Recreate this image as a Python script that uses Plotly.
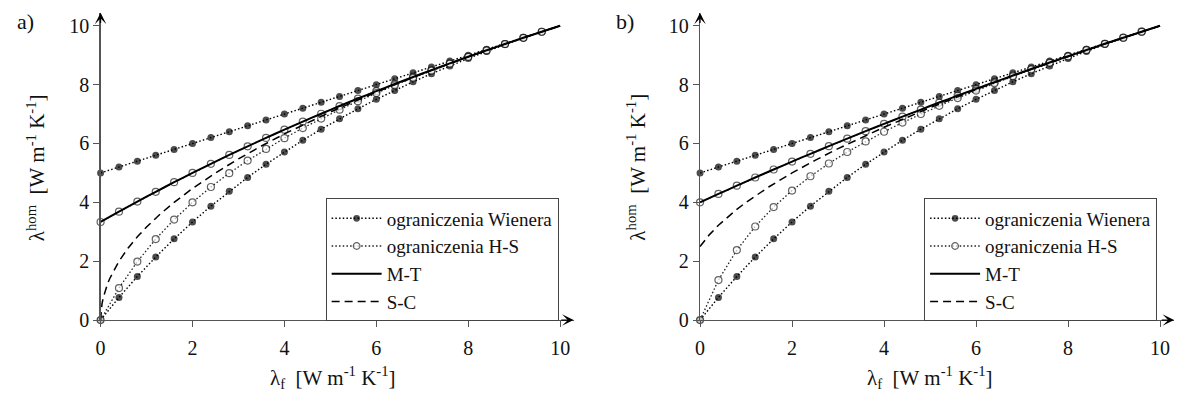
import plotly.graph_objects as go

# ---------------- data ----------------
LAM_F = [0.0, 0.4, 0.8, 1.2, 1.6, 2.0, 2.4, 2.8, 3.2, 3.6, 4.0, 4.4, 4.8,
         5.2, 5.6, 6.0, 6.4, 6.8, 7.2, 7.6, 8.0, 8.4, 8.8, 9.2, 9.6, 10.0]

WIENER_UP = [5.0, 5.2, 5.4, 5.6, 5.8, 6.0, 6.2, 6.4, 6.6, 6.8, 7.0, 7.2, 7.4,
             7.6, 7.8, 8.0, 8.2, 8.4, 8.6, 8.8, 9.0, 9.2, 9.4, 9.6, 9.8, 10.0]
WIENER_LO = [0.0, 0.769, 1.481, 2.143, 2.759, 3.333, 3.871, 4.375, 4.848, 5.294,
             5.714, 6.111, 6.486, 6.842, 7.179, 7.5, 7.805, 8.095, 8.372, 8.636,
             8.889, 9.130, 9.362, 9.583, 9.796, 10.0]

# panel a)
A_HS_UP = [3.333, 3.684, 4.026, 4.359, 4.684, 5.0, 5.309, 5.610, 5.904, 6.190,
           6.471, 6.744, 7.011, 7.273, 7.528, 7.778, 8.022, 8.261, 8.495, 8.723,
           8.947, 9.167, 9.381, 9.592, 9.798, 10.0]
A_HS_LO = [0.0, 1.086, 1.987, 2.753, 3.416, 4.0, 4.521, 4.991, 5.420, 5.815,
           6.182, 6.524, 6.846, 7.150, 7.439, 7.714, 7.978, 8.232, 8.476, 8.712,
           8.941, 9.164, 9.380, 9.591, 9.798, 10.0]
A_MT = [3.333, 3.684, 4.026, 4.359, 4.684, 5.0, 5.309, 5.610, 5.904, 6.190,
        6.471, 6.744, 7.011, 7.273, 7.528, 7.778, 8.022, 8.261, 8.495, 8.723,
        8.947, 9.167, 9.381, 9.592, 9.798, 10.0]
A_SC_X = [0.0, 0.01, 0.03, 0.06, 0.1, 0.15, 0.2, 0.3, 0.4, 0.6, 0.8, 1.0, 1.3,
          1.6, 2.0, 2.5, 3.0, 3.5, 4.0, 5.0, 6.0, 7.0, 8.0, 9.0, 10.0]
A_SC = [0.0, 0.316, 0.548, 0.775, 1.0, 1.225, 1.414, 1.732, 2.0, 2.449, 2.828,
        3.162, 3.606, 4.0, 4.472, 5.0, 5.477, 5.916, 6.325, 7.071, 7.746, 8.367,
        8.944, 9.487, 10.0]

# panel b)
B_HS_UP = [4.0, 4.286, 4.567, 4.844, 5.116, 5.385, 5.649, 5.909, 6.165, 6.418,
           6.667, 6.912, 7.153, 7.391, 7.626, 7.857, 8.085, 8.310, 8.531, 8.75,
           8.966, 9.178, 9.388, 9.595, 9.799, 10.0]
B_HS_LO = [0.0, 1.36, 2.377, 3.18, 3.84, 4.4, 4.887, 5.32, 5.711, 6.069, 6.4,
           6.71, 7.002, 7.28, 7.545, 7.8, 8.046, 8.284, 8.515, 8.74, 8.96, 9.175,
           9.387, 9.594, 9.799, 10.0]
B_MT = [4.0, 4.286, 4.567, 4.844, 5.116, 5.385, 5.649, 5.909, 6.165, 6.418,
        6.667, 6.912, 7.153, 7.391, 7.626, 7.857, 8.085, 8.310, 8.531, 8.75,
        8.966, 9.178, 9.388, 9.595, 9.799, 10.0]
B_SC_X = [0.0, 0.1, 0.2, 0.4, 0.6, 0.8, 1.0, 1.5, 2.0, 2.5, 3.0, 4.0, 5.0, 6.0,
          7.0, 8.0, 9.0, 10.0]
B_SC = [2.5, 2.710, 2.895, 3.221, 3.506, 3.763, 4.0, 4.530, 5.0, 5.428, 5.825,
        6.552, 7.215, 7.831, 8.411, 8.963, 9.491, 10.0]

TICKS = [0, 2, 4, 6, 8, 10]
LEGEND_NAMES = ["ograniczenia Wienera", "ograniczenia H-S", "M-T", "S-C"]
PANEL_LABELS = ["a)", "b)"]

# ---------------- styling ----------------
FONT = "Liberation Serif"
W, H = 1179, 405
n = len(LAM_F)
msizes = [7] * (n - 1) + [0]

fig = go.Figure()


def add_panel(xa, ya, leg, hs_up, hs_lo, mt, sc_x, sc):
    common = dict(xaxis=xa, yaxis=ya, legend=leg, cliponaxis=False)
    # Wiener bounds
    for i, yv in enumerate([WIENER_UP, WIENER_LO]):
        fig.add_trace(go.Scatter(
            x=LAM_F, y=yv, mode="lines+markers", name=LEGEND_NAMES[0],
            legendgroup=leg + "w", showlegend=(i == 0),
            line=dict(color="#000", width=1.4, dash="1.5px,2.2px"),
            marker=dict(symbol="circle", size=msizes, color="#000",
                        line=dict(width=0)),
            **common))
    # H-S bounds
    for i, yv in enumerate([hs_up, hs_lo]):
        fig.add_trace(go.Scatter(
            x=LAM_F, y=yv, mode="lines+markers", name=LEGEND_NAMES[1],
            legendgroup=leg + "h", showlegend=(i == 0),
            line=dict(color="#222", width=1.3, dash="1.5px,2.2px"),
            marker=dict(symbol="circle", size=msizes, color="white",
                        line=dict(width=1.2, color="#222")),
            **common))
    # M-T
    fig.add_trace(go.Scatter(
        x=LAM_F, y=mt, mode="lines", name=LEGEND_NAMES[2],
        line=dict(color="#000", width=2, shape="spline", smoothing=0.6),
        **common))
    # S-C
    fig.add_trace(go.Scatter(
        x=sc_x, y=sc, mode="lines", name=LEGEND_NAMES[3],
        line=dict(color="#000", width=1.5, dash="8px,5px"),
        **common))


add_panel("x", "y", "legend", A_HS_UP, A_HS_LO, A_MT, A_SC_X, A_SC)
add_panel("x2", "y2", "legend2", B_HS_UP, B_HS_LO, B_MT, B_SC_X, B_SC)

ydom = [1 - 329 / H, 1 - 13 / H]
xdom_a = [96 / W, 571 / W]
xdom_b = [698 / W, 1174 / W]
xr_a = [0, 475 / 46.15]
xr_b = [0, 476 / 46.2]
yr = [0, 316 / 30.25]

axis_common = dict(
    showgrid=False, zeroline=False, showline=True, linecolor="#555",
    linewidth=1.3, ticks="outside", ticklen=6, tickwidth=1, tickcolor="#555",
    tickvals=TICKS, ticktext=[str(t) for t in TICKS],
    tickfont=dict(family=FONT, size=20, color="#111"), fixedrange=True,
)

fig.update_layout(
    width=W, height=H,
    margin=dict(l=0, r=0, t=0, b=0),
    paper_bgcolor="white", plot_bgcolor="white",
    font=dict(family=FONT, color="#111"),
    xaxis=dict(domain=xdom_a, range=xr_a, anchor="y", ticklabelstandoff=4,
               **axis_common),
    yaxis=dict(domain=ydom, range=yr, anchor="x", **axis_common),
    xaxis2=dict(domain=xdom_b, range=xr_b, anchor="y2", ticklabelstandoff=4,
                **axis_common),
    yaxis2=dict(domain=ydom, range=yr, anchor="x2", **axis_common),
    legend=dict(x=322 / W, y=1 - 204 / H, xanchor="left", yanchor="top",
                bgcolor="white", bordercolor="#444", borderwidth=1,
                font=dict(family=FONT, size=19, color="#111"),
                itemwidth=50, tracegroupgap=0),
    legend2=dict(x=923 / W, y=1 - 204 / H, xanchor="left", yanchor="top",
                 bgcolor="white", bordercolor="#444", borderwidth=1,
                 font=dict(family=FONT, size=19, color="#111"),
                 itemwidth=50, tracegroupgap=0),
    showlegend=True,
)

annotations = []
# arrowheads on axes
for xa, ya, xr in [("x", "y", xr_a), ("x2", "y2", xr_b)]:
    annotations.append(dict(
        x=xr[1], y=0, ax=xr[1] - 0.3, ay=0, xref=xa, yref=ya, axref=xa, ayref=ya,
        showarrow=True, arrowhead=3, arrowsize=1.6, arrowwidth=1.2,
        arrowcolor="#000", text="", standoff=0))
    annotations.append(dict(
        x=0, y=yr[1], ax=0, ay=yr[1] - 0.4, xref=xa, yref=ya, axref=xa, ayref=ya,
        showarrow=True, arrowhead=3, arrowsize=1.6, arrowwidth=1.2,
        arrowcolor="#000", text="", standoff=0))

ytitle = "λ<sup>hom</sup>&nbsp;&nbsp;[W m<sup>-1</sup> K<sup>-1</sup>]"
xtitle = "λ<sub>f</sub>&nbsp;&nbsp;[W m<sup>-1</sup> K<sup>-1</sup>]"
for px_y, px_x in [(31, 329), (634, 929)]:
    annotations.append(dict(
        x=px_y / W, y=1 - 172 / H, xref="paper", yref="paper", text=ytitle,
        textangle=-90, showarrow=False, xanchor="center", yanchor="middle",
        font=dict(family=FONT, size=21, color="#111")))
    annotations.append(dict(
        x=px_x / W, y=1 - 388 / H, xref="paper", yref="paper", text=xtitle,
        showarrow=False, xanchor="center", yanchor="middle",
        font=dict(family=FONT, size=21, color="#111")))
for lab, px in zip(PANEL_LABELS, [21, 623]):
    annotations.append(dict(
        x=px / W, y=1 - 22 / H, xref="paper", yref="paper", text=lab,
        showarrow=False, xanchor="center", yanchor="middle",
        font=dict(family=FONT, size=22, color="#111")))

fig.update_layout(annotations=annotations)

fig.write_html("out.html",
               config={"displayModeBar": False, "staticPlot": True},
               post_script="document.body.style.margin='0';"
                           "document.body.style.overflow='hidden';")
